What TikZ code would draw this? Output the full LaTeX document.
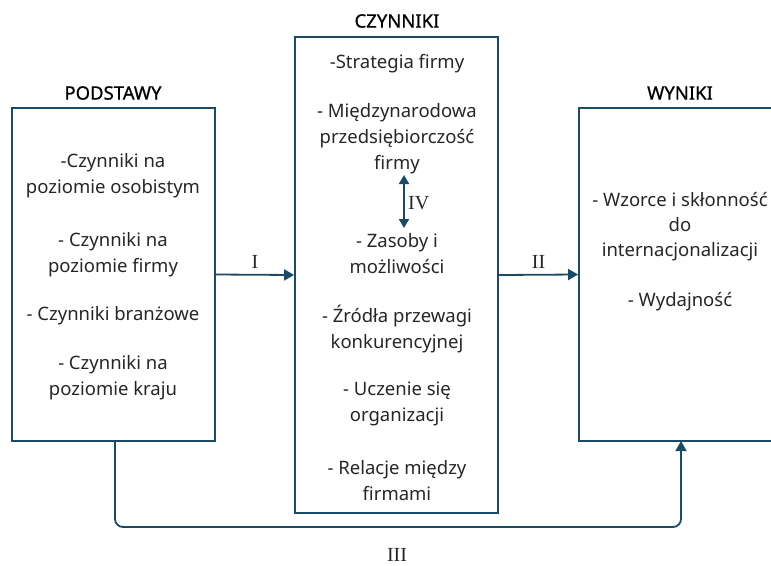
\documentclass[tikz,border=0pt]{standalone}
\usepackage{fontspec}
\setmainfont{Noto Sans}
\newfontfamily\numfont{Liberation Serif}
\newfontfamily\ttlfont[FakeBold=0.8]{Noto Sans}
\usetikzlibrary{arrows.meta}
\definecolor{dblue}{RGB}{26,74,102}
\tikzset{
  box/.style={draw=dblue, line width=1.8pt, rectangle, inner sep=0pt},
  txt/.style={align=center, inner sep=0pt, font=\fontsize{18.5}{26}\selectfont, text=black!85, yshift=-2pt},
  ttl/.style={inner sep=0pt, font=\ttlfont\fontsize{18.5}{20}\selectfont, text=black},
  num/.style={inner sep=0pt, font=\numfont\fontsize{20}{20}\selectfont, text=black!85},
  arr/.style={draw=dblue, line width=1.8pt, -{Triangle[length=10pt,width=11pt]}},
  darr/.style={draw=dblue, line width=1.8pt, {Triangle[length=9pt,width=10pt]}-{Triangle[length=9pt,width=10pt]}}
}
\begin{document}
\begin{tikzpicture}[x=1pt,y=-1pt]
\useasboundingbox (0,0) rectangle (771,565);
\clip (0,0) rectangle (771,565);
% boxes
\node[box, minimum width=203pt, minimum height=333pt] (left) at (113.5,274.5) {};
\node[box, minimum width=203pt, minimum height=476pt] (mid) at (396.5,275) {};
\node[box, minimum width=221pt, minimum height=333pt] (right) at (689.5,274.5) {};
% titles
\node[ttl] (t1) at (113,93) {PODSTAWY};
\node[ttl] (t2) at (397,21) {CZYNNIKI};
\node[ttl] (t3) at (680,93) {WYNIKI};
% left texts
\node[txt] (l1) at (113,174) {-Czynniki na\\poziomie osobistym};
\node[txt] (l2) at (113,252.5) {- Czynniki na\\poziomie firmy};
\node[txt] (l3) at (113,314) {- Czynniki branżowe};
\node[txt] (l4) at (113,376) {- Czynniki na\\poziomie kraju};
% middle texts
\node[txt] (m1) at (397,62) {-Strategia firmy};
\node[txt] (m2) at (397,136.5) {- Międzynarodowa\\przedsiębiorczość\\firmy};
\node[txt] (m3) at (397,252) {- Zasoby i\\możliwości};
\node[txt] (m4) at (397,327) {- Źródła przewagi\\konkurencyjnej};
\node[txt] (m5) at (397,402) {- Uczenie się\\organizacji};
\node[txt] (m6) at (397,479) {- Relacje między\\firmami};
% right texts
\node[txt, font=\fontsize{18.5}{25}\selectfont] (r1) at (680,225) {- Wzorce i skłonność\\do\\internacjonalizacji};
\node[txt] (r2) at (680,300) {- Wydajność};
% arrows
\draw[arr] (left.east) -- node[num, above=5pt] (lI) {I} (mid.west);
\draw[arr] (mid.east) -- node[num, above=5pt] (lII) {II} (right.west);
\coordinate (ivtop) at (404,175);
\coordinate (ivbot) at (404,228);
\draw[darr] (ivtop) -- (ivbot);
\node[num, anchor=west] (lIV) at (408,203) {IV};
\coordinate (iiistart) at (115,441);
\coordinate (iiiend) at (681,441);
\draw[arr, rounded corners=8pt] (iiistart) -- (115,527) -| (iiiend);
\node[num] (lIII) at (397,555) {III};
\end{tikzpicture}
\end{document}
